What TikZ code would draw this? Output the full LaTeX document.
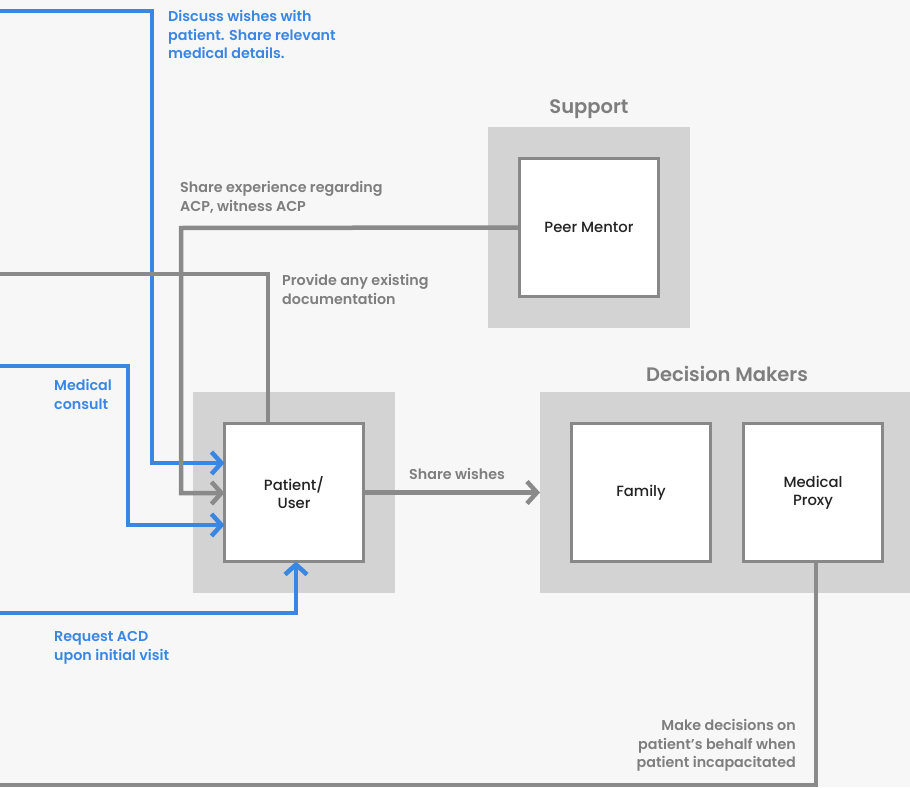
\documentclass[tikz,border=0pt]{standalone}
\usepackage{fontspec}
\setmainfont{Poppins}[UprightFont=* SemiBold]
\newfontfamily\boxfont{Poppins}[UprightFont=* Medium]
\usetikzlibrary{arrows.meta,calc}
\definecolor{bgC}{HTML}{F7F7F7}
\definecolor{groupC}{HTML}{D3D3D3}
\definecolor{edgeC}{HTML}{888888}
\definecolor{lineC}{HTML}{8A8A8A}
\definecolor{blueC}{HTML}{3A87E3}
\definecolor{grayT}{HTML}{7E7E7E}
\definecolor{darkT}{HTML}{222222}
\tikzset{
  lab/.style={inner sep=0pt, align=left, anchor=north west,
    font=\fontsize{14.3}{18.7}\selectfont},
  bluelab/.style={lab, text=blueC},
  graylab/.style={lab, text=grayT},
  head/.style={inner sep=0pt, text=grayT, font=\fontsize{19.5}{24}\selectfont},
  group/.style={fill=groupC, inner sep=0pt, outer sep=0pt},
  actor/.style={draw=edgeC, line width=3pt, fill=white, inner sep=0pt,
    outer sep=0pt, minimum width=139pt, minimum height=138pt,
    align=center, text=darkT, font=\boxfont\fontsize{14.8}{18.5}\selectfont},
  blueline/.style={draw=blueC, line width=4.5pt},
  grayline/.style={draw=lineC, line width=4.5pt},
  chev/.style={-{Straight Barb[length=10pt,width=22pt]}},
}
\begin{document}
\begin{tikzpicture}[x=1pt,y=-1pt]
  \fill[bgC] (0,0) rectangle (910,787);
  \useasboundingbox (0,0) rectangle (910,787);

  % group panels
  \node[group, minimum width=202pt, minimum height=201pt] (pgrp) at (294,492.5) {};
  \node[group, minimum width=202pt, minimum height=201pt] (sgrp) at (589,227.5) {};
  \node[group, minimum width=372pt, minimum height=201pt] (dgrp) at (726,492.5) {};

  \node[head] (shead) at (589,109) {Support};
  \node[head] (dhead) at (727,374) {Decision Makers};

  % actors
  \node[actor] (patient) at (294,492.5) {Patient/\\User};
  \node[actor] (peer) at (589,227.5) {Peer Mentor};
  \node[actor] (family) at (641,492.5) {Family};
  \node[actor] (proxy) at (813,492.5) {Medical\\Proxy};

  % free ends at the left and bottom edges
  \coordinate (inDiscuss) at (0,11);
  \coordinate (inDocs) at (0,274);
  \coordinate (inConsult) at (0,366);
  \coordinate (inRequest) at (0,613);
  \coordinate (outProxy) at (0,785);

  % blue connectors
  \draw[blueline, chev] (inDiscuss) -- (152,11) -- (152,463) -- (patient.west |- 0,463);
  \draw[blueline, chev] (inConsult) -- (128,366) -- (128,525) -- (patient.west |- 0,525);
  \draw[blueline, chev] (inRequest) -- (296,613) -- ($(patient.south)+(2,0)$);

  % gray connectors
  \draw[grayline] (inDocs) -- (268,274) -- ($(patient.north)+(-26,0)$);
  \draw[grayline, chev] (peer.west) -- (181,228) -- (181,493) -- (patient.west |- 0,493);
  \draw[grayline, chev] (patient.east) -- (dgrp.west);
  \draw[grayline] ($(proxy.south)+(3,0)$) -- (816,785) -- (outProxy);

  % labels
  \node[bluelab] (lDiscuss) at (168,10) {Discuss wishes with\\patient. Share relevant\\medical details.};
  \node[graylab] (lShare) at (180,181) {Share experience regarding\\ACP, witness ACP};
  \node[graylab] (lDocs) at (282,274) {Provide any existing\\documentation};
  \node[bluelab] (lConsult) at (54,379) {Medical\\consult};
  \node[bluelab] (lRequest) at (54,631) {Request ACD\\upon initial visit};
  \node[graylab] (lWishes) at (409,468) {Share wishes};
  \node[graylab, align=right, anchor=north east] (lProxy) at (796,719)
    {Make decisions on\\patient’s behalf when\\patient incapacitated};
\end{tikzpicture}
\end{document}
